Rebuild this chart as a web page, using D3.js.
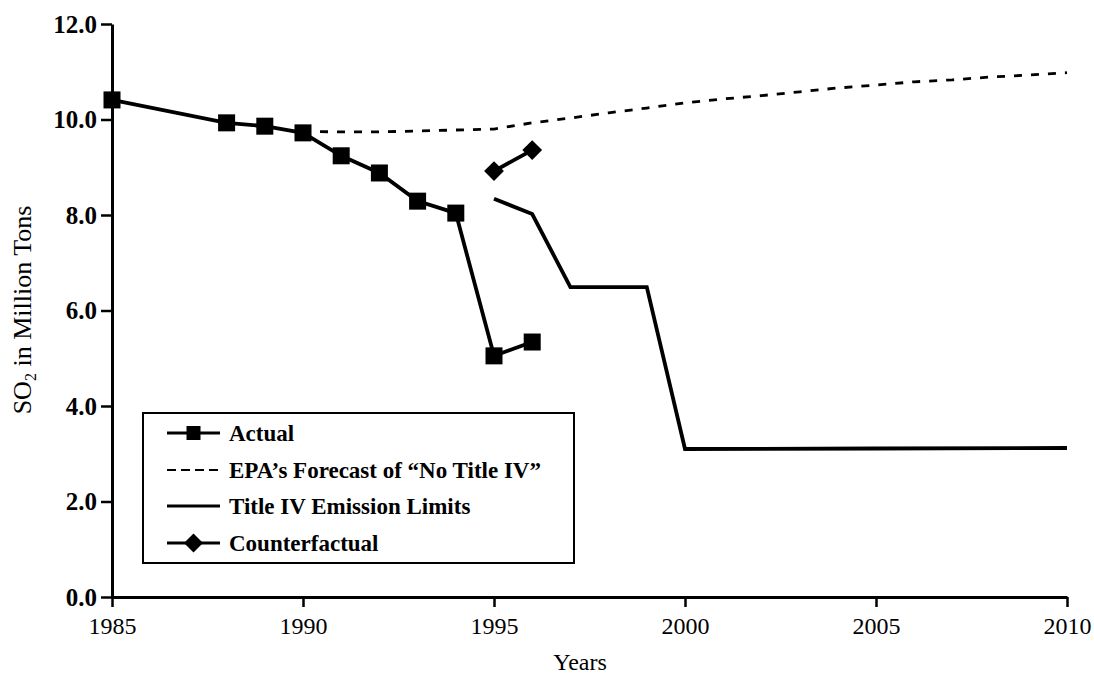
<!DOCTYPE html>
<html>
<head>
<meta charset="utf-8">
<script src="https://cdn.jsdelivr.net/npm/d3@7"></script>
<style>
  html, body { margin: 0; padding: 0; background: #fff; }
  svg { display: block; }
  text { font-family: "Liberation Serif", "DejaVu Serif", serif; fill: #000; }
</style>
</head>
<body>
<svg id="chart" width="1094" height="675"></svg>
<script>
// ---- data ----
const actualYears = [1985, 1988, 1989, 1990, 1991, 1992, 1993, 1994, 1995, 1996];
const actualValues = [10.41, 9.93, 9.86, 9.72, 9.24, 8.88, 8.29, 8.04, 5.05, 5.34];

const forecastYears = [1990, 1991, 1992, 1993, 1994, 1995, 1996, 1997, 1998, 1999, 2000, 2001, 2002, 2003, 2004, 2005, 2006, 2007, 2008, 2009, 2010];
const forecastValues = [9.75, 9.74, 9.74, 9.76, 9.78, 9.80, 9.93, 10.03, 10.14, 10.24, 10.35, 10.43, 10.50, 10.58, 10.66, 10.72, 10.79, 10.83, 10.89, 10.93, 10.98];

const limitYears = [1995, 1996, 1997, 1999, 2000, 2005, 2010];
const limitValues = [8.34, 8.02, 6.49, 6.49, 3.10, 3.11, 3.12];

const counterYears = [1995, 1996];
const counterValues = [8.92, 9.36];

const xTicks = [1985, 1990, 1995, 2000, 2005, 2010];
const yTicks = [0, 2, 4, 6, 8, 10, 12];

const legendLabels = ["Actual", "EPA\u2019s Forecast of \u201CNo Title IV\u201D", "Title IV Emission Limits", "Counterfactual"];

// ---- layout ----
const svg = d3.select("#chart");
const x = d3.scaleLinear().domain([1985, 2010]).range([112, 1067]);
const y = d3.scaleLinear().domain([0, 12]).range([597, 24]);

const zip = (xs, vs) => xs.map((d, i) => [d, vs[i]]);
const line = d3.line().x(d => x(d[0])).y(d => y(d[1]));

// axes
const yAxis = svg.append("g")
  .attr("transform", `translate(${x(1985)},0)`)
  .call(d3.axisLeft(y).tickValues(yTicks).tickSize(11).tickSizeOuter(0).tickPadding(4).tickFormat(d3.format(".1f")));
yAxis.select(".domain").attr("stroke-width", 3);
yAxis.selectAll(".tick line").attr("stroke-width", 2.5);
yAxis.selectAll("text").attr("font-size", 25).attr("font-weight", "bold").attr("dy", "0.33em")
  .style("font-family", "'Liberation Serif', serif");

const xAxis = svg.append("g")
  .attr("transform", `translate(0,${y(0)})`)
  .call(d3.axisBottom(x).tickValues(xTicks).tickSize(10).tickSizeOuter(0).tickPadding(6).tickFormat(d3.format("d")));
xAxis.select(".domain").attr("stroke-width", 3);
xAxis.selectAll(".tick line").attr("stroke-width", 2.5);
xAxis.selectAll("text").attr("font-size", 24).attr("y", 37).attr("dy", 0)
  .style("font-family", "'Liberation Serif', serif");

// axis titles
svg.append("text")
  .attr("transform", `translate(31,310) rotate(-90)`)
  .attr("text-anchor", "middle")
  .attr("font-size", 26)
  .html('SO<tspan font-size="16" dy="5">2</tspan><tspan dy="-5"> in Million Tons</tspan>');

svg.append("text")
  .attr("x", 580).attr("y", 670)
  .attr("text-anchor", "middle")
  .attr("font-size", 24)
  .text("Years");

// series
const g = svg.append("g");
g.append("path").datum(zip(forecastYears, forecastValues))
  .attr("d", line).attr("fill", "none").attr("stroke", "#000")
  .attr("stroke-width", 2.8).attr("stroke-dasharray", "8,9");

g.append("path").datum(zip(limitYears, limitValues))
  .attr("d", line).attr("fill", "none").attr("stroke", "#000")
  .attr("stroke-width", 3.8);

g.append("path").datum(zip(actualYears, actualValues))
  .attr("d", line).attr("fill", "none").attr("stroke", "#000")
  .attr("stroke-width", 3.8);

g.append("path").datum(zip(counterYears, counterValues))
  .attr("d", line).attr("fill", "none").attr("stroke", "#000")
  .attr("stroke-width", 3.8);

const sq = 17;
g.selectAll("rect.actual").data(zip(actualYears, actualValues)).enter()
  .append("rect").attr("class", "actual")
  .attr("x", d => x(d[0]) - sq / 2).attr("y", d => y(d[1]) - sq / 2)
  .attr("width", sq).attr("height", sq).attr("fill", "#000");

const diamond = d3.symbol().type(d3.symbolDiamond2).size(250);
g.selectAll("path.counter").data(zip(counterYears, counterValues)).enter()
  .append("path").attr("class", "counter")
  .attr("d", diamond)
  .attr("transform", d => `translate(${x(d[0])},${y(d[1])})`)
  .attr("fill", "#000");

// legend
const lg = svg.append("g");
lg.append("rect").attr("x", 143).attr("y", 413).attr("width", 431).attr("height", 150)
  .attr("fill", "#fff").attr("stroke", "#000").attr("stroke-width", 2);

const rowY = [433, 470, 506, 543];
const lx1 = 167, lx2 = 220;
legendLabels.forEach((lab, i) => {
  const ly = rowY[i];
  const l = lg.append("line").attr("x1", lx1).attr("x2", lx2).attr("y1", ly).attr("y2", ly)
    .attr("stroke", "#000").attr("stroke-width", i === 1 ? 2 : 3);
  if (i === 1) l.attr("stroke-dasharray", "9,5");
  if (i === 0) {
    lg.append("rect").attr("x", (lx1 + lx2) / 2 - 7).attr("y", ly - 7).attr("width", 14).attr("height", 14).attr("fill", "#000");
  }
  if (i === 3) {
    lg.append("path").attr("d", d3.symbol().type(d3.symbolDiamond2).size(230))
      .attr("transform", `translate(${(lx1 + lx2) / 2},${ly})`).attr("fill", "#000");
  }
  lg.append("text").attr("x", 229).attr("y", ly + 8)
    .attr("font-size", 23).attr("font-weight", "bold").text(lab);
});
</script>
</body>
</html>
